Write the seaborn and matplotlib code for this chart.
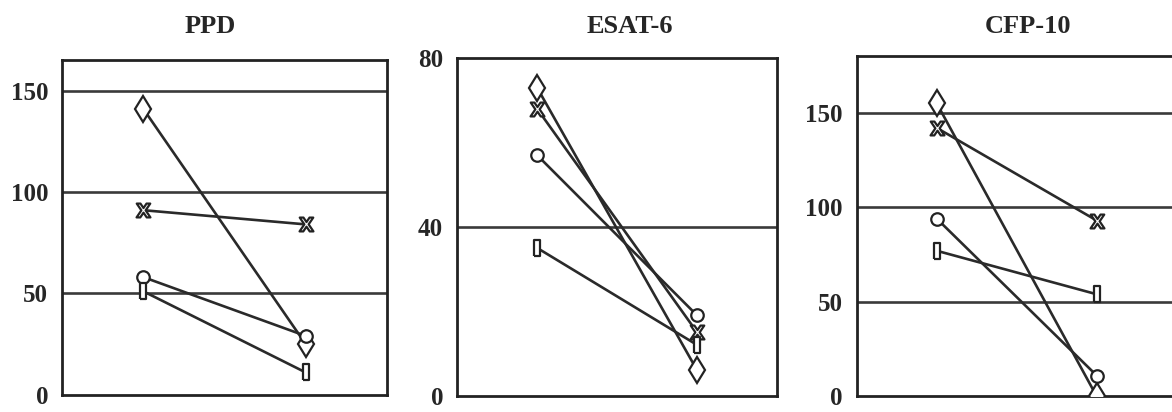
import numpy as np
import pandas as pd
import seaborn as sns
import matplotlib.pyplot as plt

# values: first and second time point per subject
panels = ["PPD", "ESAT-6", "CFP-10"]
subjects = ["diamond", "cross", "circle", "square"]
times = [1, 3]

ppd_diamond = [141, 25]
ppd_cross = [91, 84]
ppd_circle = [58, 29]
ppd_square = [51, 11]

esat_diamond = [73, 6]
esat_cross = [68, 15]
esat_circle = [57, 19]
esat_square = [35, 12]

cfp_diamond = [155, 0]
cfp_cross = [142, 93]
cfp_circle = [94, 11]
cfp_square = [77, 54]

yticks = {"PPD": [0, 50, 100, 150], "ESAT-6": [0, 40, 80], "CFP-10": [0, 50, 100, 150]}
ylims = {"PPD": (0, 165), "ESAT-6": (0, 80), "CFP-10": (0, 180)}

values = {
    "PPD": [ppd_diamond, ppd_cross, ppd_circle, ppd_square],
    "ESAT-6": [esat_diamond, esat_cross, esat_circle, esat_square],
    "CFP-10": [cfp_diamond, cfp_cross, cfp_circle, cfp_square],
}

rows = []
for p in panels:
    for s, vals in zip(subjects, values[p]):
        for t, v in zip(times, vals):
            rows.append({"panel": p, "subject": s, "time": t, "value": v})
df = pd.DataFrame(rows)

sns.set_style("white")
plt.rcParams["font.family"] = ["Liberation Serif", "DejaVu Serif"]
plt.rcParams["font.weight"] = "bold"

# thin upright rectangle marker
rect = [(-0.35, -1), (0.35, -1), (0.35, 1), (-0.35, 1), (-0.35, -1)]
markers = {"diamond": "d", "cross": r"$\mathrm{X}$", "circle": "o", "square": rect}
sizes = {"diamond": 13, "cross": 10, "circle": 9, "square": 12}
palette = {s: "#2a2a2a" for s in subjects}

fig = plt.figure(figsize=(11.72, 4.12), dpi=100)
boxes = [
    [0.053, 0.042, 0.277, 0.812],
    [0.390, 0.040, 0.273, 0.819],
    [0.731, 0.038, 0.273, 0.826],
]
title_x = [0.179, 0.537, 0.877]

for p, box, tx in zip(panels, boxes, title_x):
    ax = fig.add_axes(box)
    sub = df[df["panel"] == p]
    for s in subjects:
        ss = sub[sub["subject"] == s]
        sns.lineplot(data=ss, x="time", y="value", ax=ax, color=palette[s],
                     marker=markers[s], markersize=sizes[s], linewidth=1.9,
                     markerfacecolor="white", markeredgecolor="#222222",
                     markeredgewidth=1.6, zorder=3)
    for yv in yticks[p][1:]:
        if yv < ylims[p][1]:
            ax.axhline(yv, color="#3a3a3a", linewidth=1.9, zorder=1)
    ax.set_xlim(0, 4)
    ax.set_ylim(*ylims[p])
    ax.set_xticks([2])
    ax.set_xticklabels([""])
    ax.set_yticks(yticks[p])
    ax.set_yticklabels([str(v) for v in yticks[p]], fontsize=18, fontweight="bold")
    ax.tick_params(axis="y", length=0, pad=10)
    ax.tick_params(axis="x", direction="in", length=4, width=1.5, color="#333333")
    ax.set_xlabel("")
    ax.set_ylabel("")
    for sp in ax.spines.values():
        sp.set_visible(True)
        sp.set_color("#222222")
        sp.set_linewidth(2.0)
    fig.text(tx, 0.935, p, ha="center", va="center", fontsize=19, fontweight="bold")

fig.savefig("out.png", dpi=100)
